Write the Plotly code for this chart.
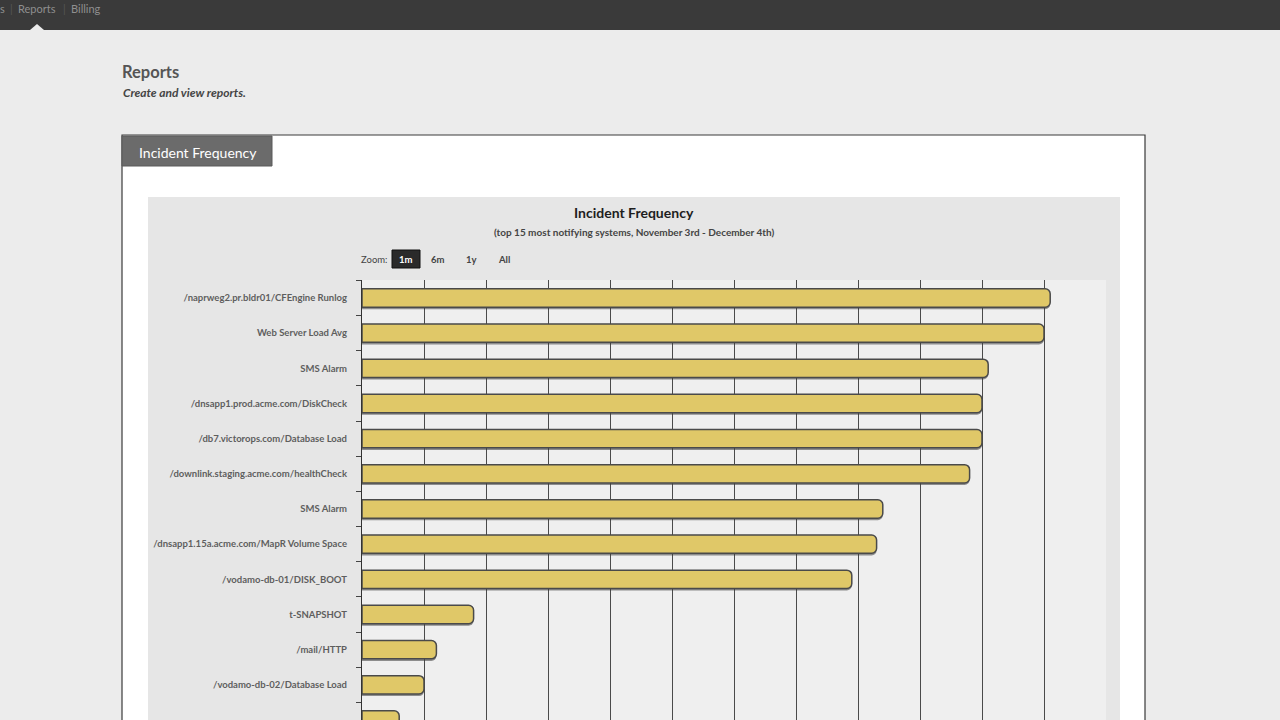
import plotly.graph_objects as go

# ---- data ----
systems = [
    "/naprweg2.pr.bldr01/CFEngine Runlog",
    "Web Server Load Avg",
    "SMS Alarm",
    "/dnsapp1.prod.acme.com/DiskCheck",
    "/db7.victorops.com/Database Load",
    "/downlink.staging.acme.com/healthCheck",
    "SMS Alarm",
    "/dnsapp1.15a.acme.com/MapR Volume Space",
    "/vodamo-db-01/DISK_BOOT",
    "t-SNAPSHOT",
    "/mail/HTTP",
    "/vodamo-db-02/Database Load",
    "/-1.STP/SYSTEM_ERROR",
]
incidents = [111, 110, 101, 100, 100, 98, 84, 83, 79, 18, 12, 10, 6]
zoom_buttons = ["1m", "6m", "1y", "All"]
nav_items = ["s", "Reports", "Billing"]

W, H = 1280, 720
def px(x):
    return x / W
def py(y):
    return 1 - y / H

FONT = "Lato"
idx = list(range(len(systems)))
BW = 0.52

fig = go.Figure()
# soft shadow behind bars
fig.add_trace(go.Bar(
    x=incidents, y=idx, orientation="h", width=BW, offset=-BW / 2 + 0.06,
    marker=dict(color="rgba(60,60,60,0.55)", line=dict(width=0), cornerradius=5),
    hoverinfo="skip",
))
fig.add_trace(go.Bar(
    x=incidents, y=idx, orientation="h", width=BW, offset=-BW / 2,
    marker=dict(color="#e0c868", line=dict(color="#4a4a4a", width=1.5), cornerradius=5),
    hovertemplate="%{customdata}: %{x}<extra></extra>",
    customdata=systems,
))
# invisible trace on y2 for between-row tick marks
fig.add_trace(go.Scatter(x=[None], y=[None], yaxis="y2", showlegend=False))

fig.update_layout(
    width=W, height=H,
    margin=dict(l=0, r=0, t=0, b=0),
    paper_bgcolor="#ececec",
    plot_bgcolor="rgba(0,0,0,0)",
    showlegend=False,
    barmode="overlay",
    xaxis=dict(
        domain=[px(362), px(1106)], range=[0, 120], dtick=10,
        showgrid=True, gridcolor="#4a4a4a", gridwidth=1,
        showticklabels=False, zeroline=False, showline=False, fixedrange=True,
    ),
    yaxis=dict(
        domain=[0, py(280.4)], range=[12.0, -0.5],
        tickvals=idx, ticktext=systems,
        tickfont=dict(family=FONT, size=9.5, color="#5e5e5e", weight="bold"),
        ticks="", ticklabelstandoff=12,
        showgrid=False, zeroline=False,
        showline=True, linecolor="#333333", linewidth=1.2,
    ),
    yaxis2=dict(
        domain=[0, py(280.4)], range=[12.0, -0.5], overlaying="y",
        anchor="x", side="left",
        tickvals=[i - 0.5 for i in range(len(systems) + 1)],
        showticklabels=False, ticks="outside", ticklen=5, tickcolor="#444444",
        showgrid=False, zeroline=False, showline=False,
    ),
)

shapes = []
# top nav bar
shapes.append(dict(type="rect", xref="paper", yref="paper", x0=0, x1=1, y0=py(30), y1=1,
                   fillcolor="#3a3a3a", line=dict(width=0), layer="below"))
shapes.append(dict(type="path", xref="paper", yref="paper",
                   path=f"M {px(30)} {py(30)} L {px(37)} {py(24)} L {px(44)} {py(30)} Z",
                   fillcolor="#ececec", line=dict(width=0), layer="below"))
# panel
shapes.append(dict(type="rect", xref="paper", yref="paper", x0=px(122), x1=px(1145), y0=py(725), y1=py(135),
                   fillcolor="#ffffff", line=dict(color="#3a3a3a", width=1.2), layer="below"))
# tab
shapes.append(dict(type="rect", xref="paper", yref="paper", x0=px(122), x1=px(272), y0=py(166), y1=py(136),
                   fillcolor="#6b6b6b", line=dict(color="#5a5a5a", width=1), layer="below"))
# chart area
shapes.append(dict(type="rect", xref="paper", yref="paper", x0=px(148), x1=px(1120), y0=py(725), y1=py(197),
                   fillcolor="#e6e6e6", line=dict(width=0), layer="below"))
shapes.append(dict(type="rect", xref="paper", yref="paper", x0=px(362), x1=px(1106), y0=py(725), y1=py(280),
                   fillcolor="#efefef", line=dict(width=0), layer="below"))
# selected zoom button
shapes.append(dict(type="rect", xref="paper", yref="paper", x0=px(392), x1=px(420), y0=py(268), y1=py(250),
                   fillcolor="#2a2a2a", line=dict(color="#111111", width=1), layer="below"))
fig.update_layout(shapes=shapes)

ann = []
def txt(x, y, s, size, color, weight="normal", style="normal", xanchor="left", family=FONT):
    ann.append(dict(xref="paper", yref="paper", x=px(x), y=py(y), text=s, showarrow=False,
                    xanchor=xanchor, yanchor="middle",
                    font=dict(family=family, size=size, color=color, weight=weight, style=style)))

# nav
txt(2, 9, nav_items[0], 11, "#8f8f8f", xanchor="center")
txt(11, 9, "|", 11, "#555555", xanchor="center")
txt(37, 9, nav_items[1], 11, "#8f8f8f", xanchor="center")
txt(64, 9, "|", 11, "#555555", xanchor="center")
txt(86, 9, nav_items[2], 11, "#8f8f8f", xanchor="center")
# page header
txt(120, 72, "Reports", 16.5, "#555555", weight="bold")
txt(121, 93, "Create and view reports.", 12, "#444444", weight="bold", style="italic")
# tab
txt(198, 152, "Incident Frequency", 14, "#ffffff", xanchor="center")
# chart title
txt(634, 212, "Incident Frequency", 14, "#1e1e1e", weight="bold", xanchor="center")
txt(634, 232, "(top 15 most notifying systems, November 3rd - December 4th)", 10, "#444444",
    weight="bold", xanchor="center")
# zoom
txt(374, 259, "Zoom:", 9.5, "#444444", xanchor="center")
for bx, lab in zip([406, 438, 471, 504], zoom_buttons):
    txt(bx, 259, lab, 9.5, "#ffffff" if lab == "1m" else "#444444", weight="bold", xanchor="center")
fig.update_layout(annotations=ann)

fig.write_html("out.html")
